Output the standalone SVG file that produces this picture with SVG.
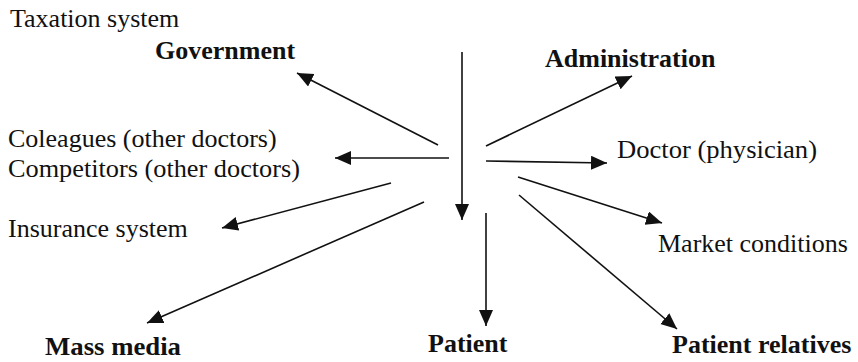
<svg xmlns="http://www.w3.org/2000/svg" width="858" height="362" viewBox="0 0 858 362">
  <style>
    .lbl { font-family: "Liberation Serif", "Times New Roman", serif; font-size: 26px; fill: #111; }
    .bold { font-weight: bold; }
    .conn { stroke: #111; stroke-width: 1.6; fill: none; marker-end: url(#head); }
  </style>
  <defs>
    <marker id="head" markerUnits="userSpaceOnUse" markerWidth="17" markerHeight="15" refX="16" refY="7" orient="auto">
      <path d="M0,0 L16,7 L0,14 Z" fill="#111"/>
    </marker>
  </defs>
  <rect width="858" height="362" fill="#fff"/>

  <!-- labels around the centre -->
  <g id="taxation"><text class="lbl" x="10" y="27">Taxation system</text></g>
  <g id="government"><text class="lbl bold" x="155" y="59">Government</text></g>
  <g id="administration"><text class="lbl bold" x="545" y="67">Administration</text></g>
  <g id="colleagues"><text class="lbl" x="8" y="147">Coleagues (other doctors)</text></g>
  <g id="competitors"><text class="lbl" x="8" y="177" textLength="292" lengthAdjust="spacingAndGlyphs">Competitors (other doctors)</text></g>
  <g id="doctor"><text class="lbl" x="617" y="158" textLength="200" lengthAdjust="spacingAndGlyphs">Doctor (physician)</text></g>
  <g id="insurance"><text class="lbl" x="8" y="237">Insurance system</text></g>
  <g id="market"><text class="lbl" x="658" y="252">Market conditions</text></g>
  <g id="massmedia"><text class="lbl bold" x="45" y="355" textLength="136" lengthAdjust="spacingAndGlyphs">Mass media</text></g>
  <g id="patient"><text class="lbl bold" x="428" y="352">Patient</text></g>
  <g id="relatives"><text class="lbl bold" x="672" y="353">Patient relatives</text></g>

  <!-- radiating arrows -->
  <g id="connectors">
    <line class="conn" x1="438" y1="145" x2="297" y2="73"/>
    <line class="conn" x1="449" y1="158" x2="335" y2="158"/>
    <line class="conn" x1="391" y1="183" x2="222" y2="228"/>
    <line class="conn" x1="424" y1="202" x2="147" y2="323"/>
    <line class="conn" x1="462" y1="52" x2="462" y2="220"/>
    <line class="conn" x1="486" y1="213" x2="486" y2="326"/>
    <line class="conn" x1="486" y1="146" x2="632" y2="76"/>
    <line class="conn" x1="486" y1="161" x2="607" y2="163"/>
    <line class="conn" x1="518" y1="177" x2="662" y2="223"/>
    <line class="conn" x1="519" y1="195" x2="677" y2="329"/>
  </g>
</svg>
